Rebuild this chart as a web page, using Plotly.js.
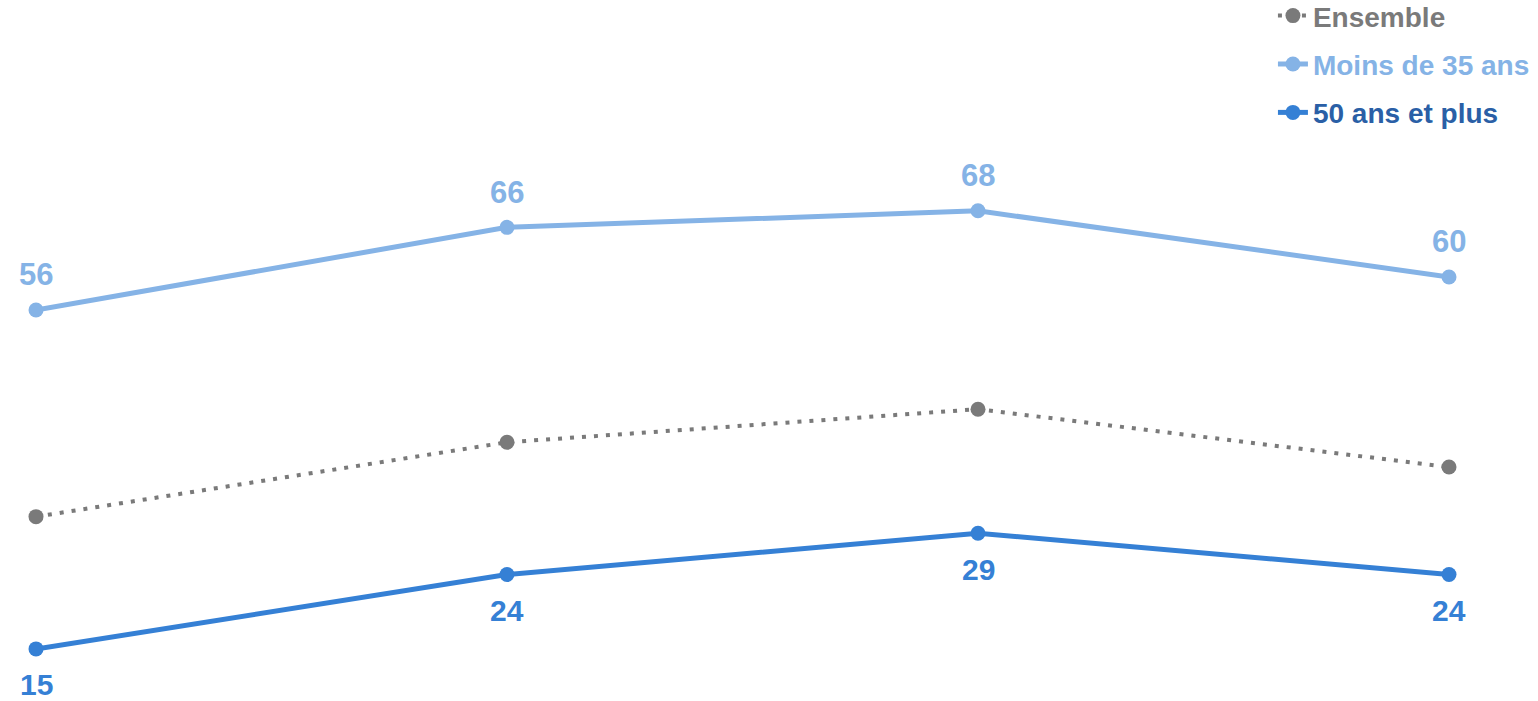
<!DOCTYPE html>
<html>
<head>
<meta charset="utf-8">
<script src="https://cdn.plot.ly/plotly-3.0.1.min.js"></script>
<style>html,body{margin:0;padding:0;background:#fff;}#chart{width:1538px;height:701px;}</style>
</head>
<body>
<div id="chart"></div>
<script>
var categories = ["P1", "P2", "P3", "P4"];
var ensemble = [31, 40, 44, 37];
var moins35 = [56, 66, 68, 60];
var plus50 = [15, 24, 29, 24];
var seriesNames = ["Ensemble", "Moins de 35 ans", "50 ans et plus"];

var cGrey = "#7a7a7a", cLight = "#85b3e6", cBlue = "#3580d5", cDark = "#2a5fa6";
var FONT = "Liberation Sans, Arial, sans-serif";

var traces = [
  {
    x: categories, y: ensemble, type: "scatter", mode: "lines+markers",
    name: '<span style="color:' + cGrey + '">' + seriesNames[0] + '</span>',
    legendgroup: "g1",
    line: {color: cGrey, width: 4, dash: "4px,8px"},
    marker: {color: cGrey, size: 15, symbol: "circle"},
    hoverinfo: "skip", cliponaxis: false
  },
  {
    x: categories, y: moins35, type: "scatter", mode: "lines+markers",
    name: '<span style="color:' + cLight + '">' + seriesNames[1] + '</span>',
    legendgroup: "g2",
    line: {color: cLight, width: 5},
    marker: {color: cLight, size: 15},
    hoverinfo: "skip", cliponaxis: false
  },
  {
    x: categories, y: plus50, type: "scatter", mode: "lines+markers",
    name: '<span style="color:' + cDark + '">' + seriesNames[2] + '</span>',
    legendgroup: "g3",
    line: {color: cBlue, width: 5},
    marker: {color: cBlue, size: 15},
    hoverinfo: "skip", cliponaxis: false
  }
];

var annotations = [];
moins35.forEach(function (v, i) {
  annotations.push({x: categories[i], y: v, text: String(v), showarrow: false,
    yshift: 35, font: {family: FONT, size: 31, color: cLight, weight: "bold"}});
});
plus50.forEach(function (v, i) {
  annotations.push({x: categories[i], y: v, text: String(v), showarrow: false,
    yshift: -36, font: {family: FONT, size: 30, color: cBlue, weight: "bold"}});
});

var layout = {
  width: 1538, height: 701,
  margin: {l: 36, r: 89, t: 0, b: 0, autoexpand: false},
  paper_bgcolor: "#fff", plot_bgcolor: "#fff",
  showlegend: true,
  legend: {
    x: 0.8754, y: 1.013, xanchor: "left", yanchor: "top",
    orientation: "v",
    font: {family: FONT, size: 28, weight: "bold", color: cGrey},
    tracegroupgap: 9,
    bgcolor: "rgba(0,0,0,0)"
  },
  annotations: annotations,
  xaxis: {type: "category", range: [0, 3], visible: false, fixedrange: true},
  yaxis: {range: [8.7, 93.5], visible: false, fixedrange: true},
  font: {family: FONT}
};

Plotly.newPlot("chart", traces, layout, {displayModeBar: false, staticPlot: true});
</script>
</body>
</html>
